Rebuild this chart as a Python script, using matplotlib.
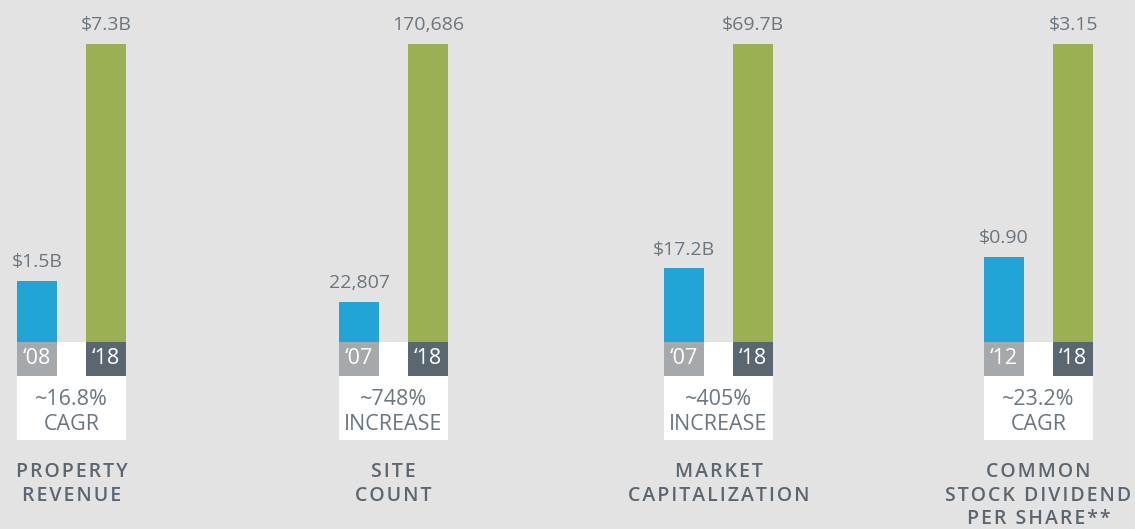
import matplotlib.pyplot as plt
from matplotlib.patches import Rectangle

# values behind each pair of bars
categories = ["PROPERTY\nREVENUE", "SITE\nCOUNT", "MARKET\nCAPITALIZATION",
              "COMMON\nSTOCK DIVIDEND\nPER SHARE**"]
start_values = [1.5, 22807, 17.2, 0.90]
end_values = [7.3, 170686, 69.7, 3.15]
start_labels = ["$1.5B", "22,807", "$17.2B", "$0.90"]
end_labels = ["$7.3B", "170,686", "$69.7B", "$3.15"]
start_years = ["\u201808", "\u201807", "\u201807", "\u201812"]
end_years = ["\u201818", "\u201818", "\u201818", "\u201818"]
growth = ["~16.8%\nCAGR", "~748%\nINCREASE", "~405%\nINCREASE", "~23.2%\nCAGR"]

BG = "#e3e3e3"
BLUE = "#21a4d6"
GREEN = "#9ab053"
YEAR_LIGHT = "#a5a9ac"
YEAR_DARK = "#5a6670"
TEXT = "#6a7680"
LABEL = "#5b6670"

W, H = 1135, 529
panel_left = [17, 339, 664, 984]  # px, left edge of the blue bar
bar_w, step = 40, 69
base_y, top_y = 342, 44           # px from top
year_h, box_h = 34, 98


def spaced(s):
    # a little tracking for the category captions
    return "\n".join("\u200a".join(line) for line in s.split("\n"))


plt.rcParams["font.family"] = ["Open Sans", "DejaVu Sans"]

fig = plt.figure(figsize=(W / 100, H / 100), dpi=100, facecolor=BG)

span = bar_w + step  # 109 px
for i in range(4):
    left = panel_left[i] / W
    bottom = (H - base_y) / H
    ax = fig.add_axes([left, bottom, span / W, (base_y - top_y) / H])
    ax.set_facecolor("none")
    ax.set_axis_off()
    ymax = end_values[i]
    ax.set_ylim(0, ymax)
    half = bar_w / step / 2
    ax.set_xlim(-half, 1 + half)

    bars = ax.bar([0, 1], [start_values[i], end_values[i]], width=2 * half,
                  color=[BLUE, GREEN])
    for b, lab in zip(bars, [start_labels[i], end_labels[i]]):
        ax.annotate(lab, (b.get_x() + b.get_width() / 2, b.get_height()),
                    xytext=(0, 7), textcoords="offset points",
                    ha="center", va="bottom", fontsize=14, color=TEXT)

    # white box and year tags below the bars
    frac = 1 / (base_y - top_y)
    tr = ax.get_xaxis_transform()
    ax.add_patch(Rectangle((-half, -box_h * frac), 1 + 2 * half, box_h * frac,
                           transform=tr, facecolor="white", clip_on=False))
    for x, yr, c in [(0, start_years[i], YEAR_LIGHT), (1, end_years[i], YEAR_DARK)]:
        ax.add_patch(Rectangle((x - half, -year_h * frac), 2 * half, year_h * frac,
                               transform=tr, facecolor=c, clip_on=False))
        ax.text(x, -year_h * frac / 2, yr, transform=tr, ha="center",
                va="center", fontsize=15.5, color="white")
    ax.text(0.5, -(year_h + (box_h - year_h) / 2 + 4) * frac, growth[i],
            transform=tr, ha="center", va="center", fontsize=15.5, color=TEXT,
            linespacing=1.2)
    ax.text(0.5, -(462 - base_y) * frac, spaced(categories[i]), transform=tr,
            ha="center", va="top", fontsize=14, color=LABEL,
            fontweight="semibold", linespacing=1.25)

fig.savefig("out.png", dpi=100, facecolor=BG)
